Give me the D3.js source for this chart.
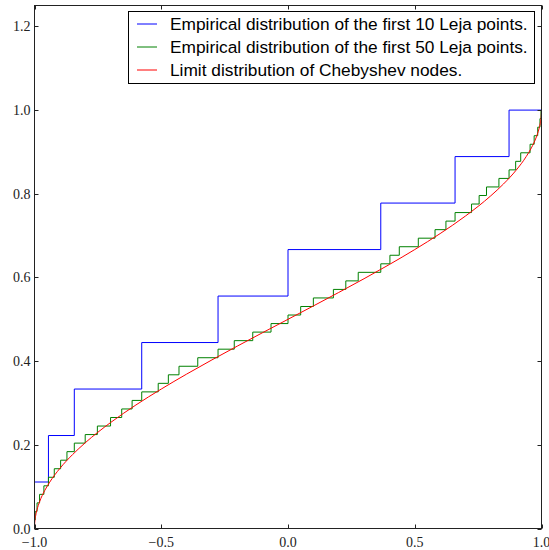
<!DOCTYPE html>
<html>
<head>
<meta charset="utf-8">
<script src="https://cdn.jsdelivr.net/npm/d3@7"></script>
<style>
  html, body { margin: 0; padding: 0; background: #fff; }
  svg { display: block; }
</style>
</head>
<body>
<svg id="chart" width="549" height="550"></svg>
<script>
// Sorted first 10 Leja points on [-1, 1]
const leja10 = [-1, -0.945, -0.843, -0.577, -0.276, 0, 0.366, 0.659, 0.872, 1];

// Sorted first 50 Leja points on [-1, 1]
const leja50 = [
  -1, -0.997, -0.990, -0.980, -0.963, -0.945, -0.922, -0.897, -0.872, -0.843,
  -0.800, -0.752, -0.700, -0.656, -0.615, -0.577, -0.512, -0.472, -0.430, -0.356,
  -0.276, -0.212, -0.139, -0.067, 0, 0.050, 0.100, 0.179, 0.228, 0.277,
  0.366, 0.402, 0.439, 0.514, 0.580, 0.623, 0.659, 0.724, 0.754, 0.783,
  0.832, 0.872, 0.898, 0.918, 0.955, 0.971, 0.985, 0.994, 0.998, 1
];

// Arcsine (Chebyshev) limit distribution, sampled
const chebX = [-1, -0.999, -0.995, -0.99, -0.98, -0.96, -0.94, -0.9, -0.85, -0.8, -0.7, -0.6, -0.5, -0.4, -0.3, -0.2, -0.1,
               0, 0.1, 0.2, 0.3, 0.4, 0.5, 0.6, 0.7, 0.8, 0.85, 0.9, 0.94, 0.96, 0.98, 0.99, 0.995, 0.999, 1];
const chebF = [0, 0.0142, 0.0318, 0.0450, 0.0638, 0.0903, 0.1108, 0.1436, 0.1766, 0.2048, 0.2532, 0.2952, 0.3333, 0.3690, 0.4030, 0.4359, 0.4681,
               0.5, 0.5319, 0.5641, 0.5970, 0.6310, 0.6667, 0.7048, 0.7468, 0.7952, 0.8234, 0.8564, 0.8892, 0.9097, 0.9362, 0.9550, 0.9682, 0.9858, 1];

const xTicks = [-1.0, -0.5, 0.0, 0.5, 1.0];
const yTicks = [0.0, 0.2, 0.4, 0.6, 0.8, 1.0, 1.2];

const legendLabels = [
  "Empirical distribution of the first 10 Leja points.",
  "Empirical distribution of the first 50 Leja points.",
  "Limit distribution of Chebyshev nodes."
];
const colors = ["#0000ff", "#008000", "#ff0000"];

const svg = d3.select("#chart");
const plotLeft = 34.5, plotRight = 541.5, plotTop = 5.5, plotBottom = 528.5;

const x = d3.scaleLinear().domain([-1, 1]).range([plotLeft, plotRight]);
const y = d3.scaleLinear().domain([0, 1.25]).range([plotBottom, plotTop]);

// Empirical CDF points: k-th sorted point carries level k/(n-1)
const ecdf = pts => pts.map((p, i) => [p, i / (pts.length - 1)]);

const stepLine = d3.line()
  .x(d => x(d[0])).y(d => y(d[1]))
  .curve(d3.curveStepBefore);

const smoothLine = d3.line()
  .x(d => x(d[0])).y(d => y(d[1]))
  .curve(d3.curveMonotoneX);

const plot = svg.append("g");
plot.append("path").datum(ecdf(leja10))
  .attr("d", stepLine).attr("fill", "none")
  .attr("stroke", colors[0]).attr("stroke-width", 1);
plot.append("path").datum(ecdf(leja50))
  .attr("d", stepLine).attr("fill", "none")
  .attr("stroke", colors[1]).attr("stroke-width", 1);
plot.append("path").datum(chebX.map((v, i) => [v, chebF[i]]))
  .attr("d", smoothLine).attr("fill", "none")
  .attr("stroke", colors[2]).attr("stroke-width", 1);

// Frame
svg.append("rect")
  .attr("x", plotLeft).attr("y", plotTop)
  .attr("width", plotRight - plotLeft).attr("height", plotBottom - plotTop)
  .attr("fill", "none").attr("stroke", "#222").attr("stroke-width", 1);

// Inward ticks on all four sides
const tickLen = 4;
const fmt = v => (v < 0 ? "\u2212" : "") + Math.abs(v).toFixed(1);
const tg = svg.append("g").attr("stroke", "#222").attr("stroke-width", 1);
xTicks.forEach(v => {
  const px = Math.round(x(v)) + 0.5;
  tg.append("line").attr("x1", px).attr("x2", px).attr("y1", plotBottom).attr("y2", plotBottom - tickLen);
  tg.append("line").attr("x1", px).attr("x2", px).attr("y1", plotTop).attr("y2", plotTop + tickLen);
});
yTicks.forEach(v => {
  const py = Math.round(y(v)) + 0.5;
  tg.append("line").attr("x1", plotLeft).attr("x2", plotLeft + tickLen).attr("y1", py).attr("y2", py);
  tg.append("line").attr("x1", plotRight).attr("x2", plotRight - tickLen).attr("y1", py).attr("y2", py);
});

const tickFont = "'Liberation Serif', 'DejaVu Serif', serif";
svg.append("g").selectAll("text").data(xTicks).join("text")
  .attr("x", d => x(d)).attr("y", plotBottom + 18)
  .attr("text-anchor", "middle")
  .attr("font-family", tickFont).attr("font-size", 14).attr("fill", "#222")
  .text(fmt);
svg.append("g").selectAll("text").data(yTicks).join("text")
  .attr("x", plotLeft - 4).attr("y", d => y(d) + 5)
  .attr("text-anchor", "end")
  .attr("font-family", tickFont).attr("font-size", 14).attr("fill", "#222")
  .text(fmt);

// Legend
const lg = svg.append("g");
lg.append("rect")
  .attr("x", 128.5).attr("y", 11.5).attr("width", 406).attr("height", 72)
  .attr("fill", "#fff").attr("stroke", "#000").attr("stroke-width", 1);
const texts = [];
legendLabels.forEach((lab, i) => {
  const cy = 24 + i * 23;
  lg.append("line")
    .attr("x1", 137).attr("x2", 157).attr("y1", cy).attr("y2", cy)
    .attr("stroke", colors[i]).attr("stroke-width", 1);
  texts.push(lg.append("text")
    .attr("x", 170).attr("y", cy + 6)
    .attr("font-family", "'Liberation Sans', Arial, sans-serif")
    .attr("font-size", 16).attr("fill", "#000")
    .text(lab));
});
// fit the font so the longest entry spans its measured width
const w0 = texts[0].node().getComputedTextLength();
const fs = 16 * 358 / w0;
texts.forEach(t => t.attr("font-size", fs));
</script>
</body>
</html>
